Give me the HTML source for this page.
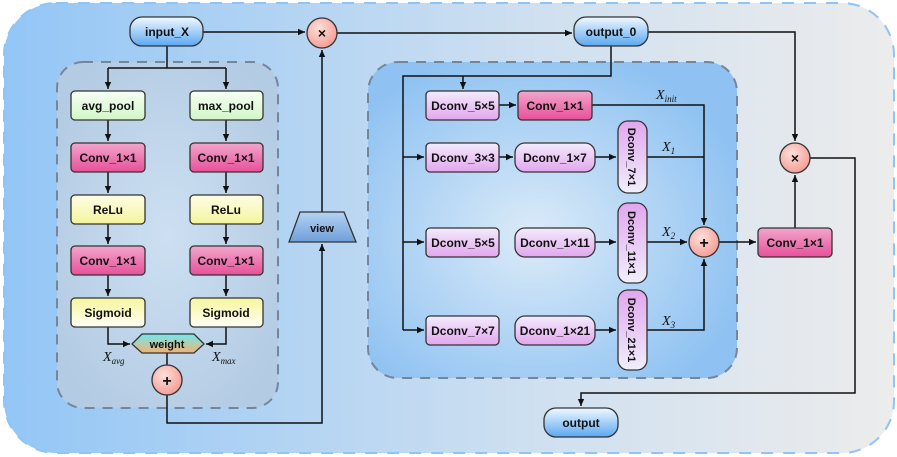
<!DOCTYPE html>
<html><head><meta charset="utf-8"><style>
html,body{margin:0;padding:0;background:#fff;}
svg{display:block;}
text{font-family:"Liberation Sans",sans-serif;font-weight:bold;font-size:12px;fill:#111;}
.m{font-family:"Liberation Serif",serif;font-style:italic;font-weight:normal;font-size:14px;}
.s{font-family:"Liberation Serif",serif;font-style:italic;font-weight:normal;font-size:9px;}
</style></head><body>
<svg width="897" height="457" viewBox="0 0 897 457" xmlns="http://www.w3.org/2000/svg">
<defs>
<linearGradient id="bg" x1="0" x2="1" y1="0" y2="0"><stop offset="0" stop-color="#93c6f6"/><stop offset="0.6" stop-color="#cfe0f0"/><stop offset="1" stop-color="#ececec"/></linearGradient>
<radialGradient id="lb" cx="0.5" cy="0.5" r="0.6"><stop offset="0" stop-color="#cde0f2"/><stop offset="1" stop-color="#b3cbe3"/></radialGradient>
<radialGradient id="rb" cx="0.45" cy="0.55" r="0.6"><stop offset="0" stop-color="#dcebf8"/><stop offset="1" stop-color="#8fc2f2"/></radialGradient>
<linearGradient id="pill" x1="0" x2="0" y1="0" y2="1"><stop offset="0" stop-color="#f2f8ff"/><stop offset="1" stop-color="#5aa8f2"/></linearGradient>
<linearGradient id="pk" x1="0" x2="0" y1="0" y2="1"><stop offset="0" stop-color="#f2a6cc"/><stop offset="1" stop-color="#e8509a"/></linearGradient>
<linearGradient id="gr" x1="0" x2="0" y1="0" y2="1"><stop offset="0" stop-color="#f6fff4"/><stop offset="1" stop-color="#d2f6c8"/></linearGradient>
<linearGradient id="ye" x1="0" x2="0" y1="0" y2="1"><stop offset="0" stop-color="#fdfde6"/><stop offset="1" stop-color="#f5f49c"/></linearGradient>
<linearGradient id="sg" x1="0" x2="0" y1="0" y2="1"><stop offset="0" stop-color="#f7f69c"/><stop offset="1" stop-color="#fefef6"/></linearGradient>
<linearGradient id="pu" x1="0" x2="0" y1="0" y2="1"><stop offset="0" stop-color="#f3ecfc"/><stop offset="1" stop-color="#e2a6ee"/></linearGradient>
<linearGradient id="pv" x1="1" x2="0" y1="0" y2="0"><stop offset="0" stop-color="#f3ecfc"/><stop offset="1" stop-color="#e2a6ee"/></linearGradient>
<linearGradient id="pv2" x1="0" x2="0" y1="0" y2="1"><stop offset="0" stop-color="#e2a6ee"/><stop offset="1" stop-color="#f0eefc"/></linearGradient>
<linearGradient id="hx" x1="0" x2="0" y1="0" y2="1"><stop offset="0" stop-color="#6eeaf0"/><stop offset="1" stop-color="#f6b070"/></linearGradient>
<radialGradient id="cr" cx="0.4" cy="0.35" r="0.7"><stop offset="0" stop-color="#fde0da"/><stop offset="1" stop-color="#f49a92"/></radialGradient>
<linearGradient id="vw" x1="0" x2="0" y1="0" y2="1"><stop offset="0" stop-color="#b4d2f4"/><stop offset="1" stop-color="#6f9fd8"/></linearGradient>
<marker id="a" markerWidth="8" markerHeight="8" refX="7" refY="4" orient="auto" markerUnits="userSpaceOnUse"><path d="M0,0.8 L7,4 L0,7.2 Z" fill="#111"/></marker>
</defs>
<rect x="4" y="3" width="890" height="450" rx="52" fill="url(#bg)" stroke="#8ec4f6" stroke-width="2" stroke-dasharray="12,10"/>
<rect x="57" y="62" width="221" height="346" rx="26" fill="url(#lb)" stroke="#76869a" stroke-width="2" stroke-dasharray="10,8"/>
<rect x="368" y="62" width="369" height="316" rx="30" fill="url(#rb)" stroke="#76869a" stroke-width="2" stroke-dasharray="10,8"/>

<g stroke="#111" stroke-width="1.5" fill="none">
<path d="M203,32 H305" marker-end="url(#a)"/>
<path d="M337,33 H572" marker-end="url(#a)"/>
<path d="M648,32 H795 V141" marker-end="url(#a)"/>
<path d="M167,46 V68 M108,68 H226 M108,68 V89" marker-end="url(#a)"/>
<path d="M226,68 V89" marker-end="url(#a)"/>
<path d="M108,120 V141" marker-end="url(#a)"/><path d="M226,120 V141" marker-end="url(#a)"/>
<path d="M108,172 V193" marker-end="url(#a)"/><path d="M226,172 V193" marker-end="url(#a)"/>
<path d="M108,224 V244" marker-end="url(#a)"/><path d="M226,224 V244" marker-end="url(#a)"/>
<path d="M108,275 V296" marker-end="url(#a)"/><path d="M226,275 V296" marker-end="url(#a)"/>
<path d="M108,327 V344 H130" marker-end="url(#a)"/>
<path d="M226,327 V344 H206" marker-end="url(#a)"/>
<path d="M167,353 V365"/>
<path d="M167,395 V423 H322 V244" marker-end="url(#a)"/>
<path d="M322,212 V50" marker-end="url(#a)"/>
<path d="M611,46 V76 H403 V330 M463,76 V89" marker-end="url(#a)"/>
<path d="M403,157 H424" marker-end="url(#a)"/>
<path d="M403,242 H424" marker-end="url(#a)"/>
<path d="M403,330 H424" marker-end="url(#a)"/>
<path d="M499,105 H516" marker-end="url(#a)"/>
<path d="M499,157 H513" marker-end="url(#a)"/>
<path d="M595,157 H616" marker-end="url(#a)"/>
<path d="M595,242 H616" marker-end="url(#a)"/>
<path d="M595,330 H616" marker-end="url(#a)"/>
<path d="M592,105 H704 V225" marker-end="url(#a)"/>
<path d="M647,157 H704"/>
<path d="M647,242 H687" marker-end="url(#a)"/>
<path d="M647,330 H704 V259" marker-end="url(#a)"/>
<path d="M719,242 H756" marker-end="url(#a)"/>
<path d="M795,228 V175" marker-end="url(#a)"/>
<path d="M810,158 H855 V393 H581 V406" marker-end="url(#a)"/>
</g>

<g stroke="#333" stroke-width="1.3">
<rect x="130" y="17" width="73" height="29" rx="12" fill="url(#pill)"/>
<rect x="574" y="17" width="74" height="29" rx="12" fill="url(#pill)"/>
<rect x="544" y="408" width="74" height="29" rx="12" fill="url(#pill)"/>
<rect x="71" y="91" width="74" height="29" rx="4" fill="url(#gr)"/>
<rect x="190" y="91" width="73" height="29" rx="4" fill="url(#gr)"/>
<rect x="71" y="143" width="74" height="29" rx="4" fill="url(#pk)"/>
<rect x="190" y="143" width="73" height="29" rx="4" fill="url(#pk)"/>
<rect x="71" y="195" width="74" height="29" rx="4" fill="url(#ye)"/>
<rect x="190" y="195" width="73" height="29" rx="4" fill="url(#ye)"/>
<rect x="71" y="246" width="74" height="29" rx="4" fill="url(#pk)"/>
<rect x="190" y="246" width="73" height="29" rx="4" fill="url(#pk)"/>
<rect x="71" y="298" width="74" height="29" rx="4" fill="url(#sg)"/>
<rect x="190" y="298" width="73" height="29" rx="4" fill="url(#sg)"/>
<polygon points="132,344 142,334 194,334 204,344 194,353 142,353" fill="url(#hx)"/>
<polygon points="300,212 344,212 356,242 289,242" fill="url(#vw)"/>
<rect x="426" y="91" width="73" height="29" rx="4" fill="url(#pu)"/>
<rect x="426" y="143" width="73" height="29" rx="4" fill="url(#pu)"/>
<rect x="426" y="228" width="73" height="29" rx="4" fill="url(#pu)"/>
<rect x="426" y="316" width="73" height="29" rx="4" fill="url(#pu)"/>
<rect x="518" y="91" width="74" height="29" rx="4" fill="url(#pk)"/>
<rect x="515" y="143" width="80" height="29" rx="10" fill="url(#pu)"/>
<rect x="515" y="228" width="80" height="29" rx="10" fill="url(#pu)"/>
<rect x="515" y="316" width="80" height="29" rx="10" fill="url(#pu)"/>
<rect x="618" y="121" width="29" height="72" rx="10" fill="url(#pv2)"/>
<rect x="618" y="203" width="29" height="80" rx="10" fill="url(#pv2)"/>
<rect x="618" y="290" width="29" height="80" rx="10" fill="url(#pv2)"/>
<rect x="758" y="228" width="74" height="29" rx="4" fill="url(#pk)"/>
<circle cx="322" cy="33" r="15" fill="url(#cr)"/>
<circle cx="167" cy="380" r="15" fill="url(#cr)"/>
<circle cx="704" cy="242" r="15" fill="url(#cr)"/>
<circle cx="795" cy="158" r="15" fill="url(#cr)"/>
</g>

<g text-anchor="middle">
<text x="167" y="36">input_X</text>
<text x="611" y="36">output_0</text>
<text x="581" y="427">output</text>
<text x="108" y="110">avg_pool</text>
<text x="226" y="110">max_pool</text>
<text x="108" y="162">Conv_1×1</text>
<text x="226" y="162">Conv_1×1</text>
<text x="108" y="214">ReLu</text>
<text x="226" y="214">ReLu</text>
<text x="108" y="265">Conv_1×1</text>
<text x="226" y="265">Conv_1×1</text>
<text x="108" y="317">Sigmoid</text>
<text x="226" y="317">Sigmoid</text>
<text x="167" y="348" style="font-size:11px">weight</text>
<text x="322" y="232" style="font-size:11px">view</text>
<text x="463" y="110">Dconv_5×5</text>
<text x="463" y="162">Dconv_3×3</text>
<text x="463" y="247">Dconv_5×5</text>
<text x="463" y="335">Dconv_7×7</text>
<text x="555" y="110">Conv_1×1</text>
<text x="555" y="162">Dconv_1×7</text>
<text x="555" y="247">Dconv_1×11</text>
<text x="555" y="335">Dconv_1×21</text>
<text x="795" y="247">Conv_1×1</text>
<text transform="translate(628,157) rotate(90)" style="font-size:11px">Dconv_7×1</text>
<text transform="translate(628,243) rotate(90)" style="font-size:11px">Dconv_11×1</text>
<text transform="translate(628,330) rotate(90)" style="font-size:11px">Dconv_21×1</text>
<text x="322" y="38" style="font-size:14px">×</text>
<text x="795" y="163" style="font-size:14px">×</text>
<text x="167" y="386" style="font-size:16px">+</text>
<text x="704" y="248" style="font-size:16px">+</text>
</g>
<text class="m" x="103" y="361">X<tspan class="s" dy="3">avg</tspan></text>
<text class="m" x="212" y="361">X<tspan class="s" dy="3">max</tspan></text>
<text class="m" x="656" y="99">X<tspan class="s" dy="3">init</tspan></text>
<text class="m" x="662" y="151">X<tspan class="s" dy="3">1</tspan></text>
<text class="m" x="662" y="236">X<tspan class="s" dy="3">2</tspan></text>
<text class="m" x="662" y="325">X<tspan class="s" dy="3">3</tspan></text>
</svg>
</body></html>
